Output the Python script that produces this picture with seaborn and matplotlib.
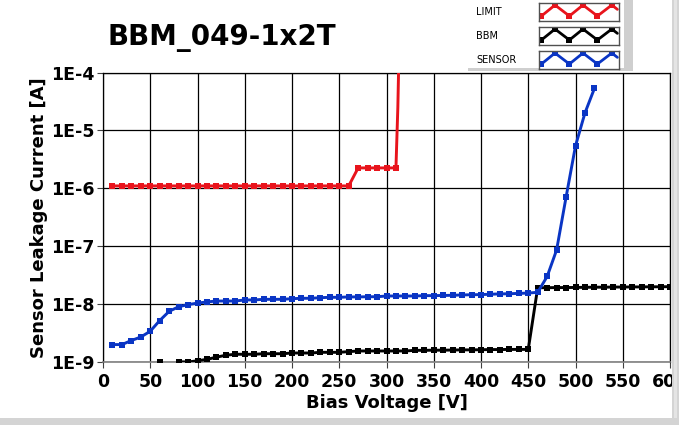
import numpy as np
import pandas as pd
import seaborn as sns
import matplotlib.pyplot as plt
from matplotlib.ticker import FixedLocator, FixedFormatter, NullLocator
from matplotlib.patches import Rectangle

# Bias voltage [V] and leakage current [A]
limit_v = [10, 20, 30, 40, 50, 60, 70, 80, 90, 100, 110, 120, 130, 140, 150,
           160, 170, 180, 190, 200, 210, 220, 230, 240, 250, 260,
           270, 280, 290, 300, 310, 312, 314]
limit_i = [1.1e-6] * 26 + [2.25e-6] * 5 + [2.5e-5, 1e-3]

bbm_v = [60, 70, 80, 90, 100, 110, 120, 130, 140, 150, 160, 170, 180, 190, 200,
         210, 220, 230, 240, 250, 260, 270, 280, 290, 300, 310, 320, 330, 340,
         350, 360, 370, 380, 390, 400, 410, 420, 430, 440, 450,
         460, 470, 480, 490, 500, 510, 520, 530, 540, 550, 560, 570, 580, 590, 600]
bbm_i = [1.0e-9, 6e-10, 1.01e-9, 1.0e-9, 1.05e-9, 1.11e-9, 1.21e-9, 1.31e-9, 1.36e-9,
         1.36e-9, 1.36e-9, 1.39e-9, 1.39e-9, 1.39e-9, 1.43e-9, 1.43e-9, 1.43e-9,
         1.47e-9, 1.47e-9, 1.47e-9, 1.51e-9, 1.55e-9, 1.55e-9, 1.55e-9, 1.55e-9,
         1.55e-9, 1.55e-9, 1.59e-9, 1.59e-9, 1.6e-9, 1.6e-9, 1.61e-9, 1.62e-9,
         1.62e-9, 1.63e-9, 1.64e-9, 1.64e-9, 1.65e-9, 1.65e-9, 1.65e-9,
         1.92e-8, 1.92e-8, 1.93e-8, 1.93e-8, 1.94e-8, 1.95e-8, 1.96e-8, 1.96e-8,
         1.97e-8, 1.97e-8, 1.98e-8, 1.98e-8, 1.99e-8, 1.99e-8, 2.0e-8]

sensor_v = [10, 20, 30, 40, 50, 60, 70, 80, 90, 100, 110, 120, 130, 140, 150,
            160, 170, 180, 190, 200, 210, 220, 230, 240, 250, 260, 270, 280, 290,
            300, 310, 320, 330, 340, 350, 360, 370, 380, 390, 400, 410, 420, 430,
            440, 450, 460, 470, 480, 490, 500, 510, 520]
sensor_i = [2.0e-9, 2.0e-9, 2.35e-9, 2.7e-9, 3.4e-9, 5.2e-9, 7.5e-9, 9.0e-9, 9.8e-9,
            1.04e-8, 1.09e-8, 1.13e-8, 1.13e-8, 1.13e-8, 1.18e-8, 1.18e-8, 1.21e-8,
            1.21e-8, 1.21e-8, 1.24e-8, 1.26e-8, 1.26e-8, 1.29e-8, 1.31e-8, 1.31e-8,
            1.33e-8, 1.33e-8, 1.34e-8, 1.34e-8, 1.38e-8, 1.38e-8, 1.38e-8, 1.38e-8,
            1.4e-8, 1.4e-8, 1.41e-8, 1.42e-8, 1.44e-8, 1.45e-8, 1.46e-8, 1.48e-8,
            1.5e-8, 1.51e-8, 1.53e-8, 1.55e-8, 1.6e-8, 3.0e-8, 8.6e-8, 7.0e-7,
            5.4e-6, 2.0e-5, 5.3e-5]

series_names = ["LIMIT", "BBM", "SENSOR"]
series_colors = ["#e8141c", "#000000", "#0a35c4"]

x_ticks = list(range(0, 601, 50))
y_ticks = [1e-9, 1e-8, 1e-7, 1e-6, 1e-5, 1e-4]
y_labels = ["1E-9", "1E-8", "1E-7", "1E-6", "1E-5", "1E-4"]

sns.set_theme(style="white")
plt.rcParams['font.family'] = ['DejaVu Sans']

W, H = 679, 425
fig = plt.figure(figsize=(W / 100, H / 100), dpi=100)
fig.patch.set_facecolor("white")


def fx(px):
    return px / W


def fy(py):
    return 1 - py / H


ax = fig.add_axes([fx(103), fy(362), fx(670) - fx(103), fy(72.5) - fy(362)])

data = [(limit_v, limit_i), (bbm_v, bbm_i), (sensor_v, sensor_i)]
for (v, i), name, col in zip(data, series_names, series_colors):
    # the LIMIT trace shoots out of range without drawing markers on the jump
    marks = list(range(len(v) - 2)) if name == "LIMIT" else None
    sns.lineplot(x=v, y=i, ax=ax, color=col, marker="s", markersize=4.6,
                 markeredgewidth=0, linewidth=2.1, sort=False, estimator=None,
                 legend=False, zorder=3, markevery=marks)

ax.set_yscale("log")
ax.set_xlim(0, 600)
ax.set_ylim(1e-9, 1e-4)
ax.xaxis.set_major_locator(FixedLocator(x_ticks))
ax.yaxis.set_major_locator(FixedLocator(y_ticks))
ax.yaxis.set_major_formatter(FixedFormatter(y_labels))
ax.yaxis.set_minor_locator(NullLocator())
ax.grid(True, color="black", linewidth=0.9)
ax.set_axisbelow(True)
for s in ["top", "left", "right"]:
    ax.spines[s].set_color("black")
    ax.spines[s].set_linewidth(0.9)
ax.spines["bottom"].set_color("#808080")
ax.spines["bottom"].set_linewidth(1.2)
ax.tick_params(axis="both", which="major", length=4.5, width=0.8, color="#404040",
               left=True, bottom=True, direction="out")
ax.tick_params(axis="y", pad=1.5, labelsize=12.5)
ax.tick_params(axis="x", pad=3.5, labelsize=12.5)
for lab in ax.get_xticklabels() + ax.get_yticklabels():
    lab.set_fontweight("bold")
    lab.set_color("black")

ax.set_xlabel("Bias Voltage [V]", fontsize=13, fontweight="bold", color="black",
              labelpad=2)
ax.set_ylabel("Sensor Leakage Current [A]", fontsize=13, fontweight="bold",
              color="black", labelpad=2)

fig.text(fx(108), fy(38), "BBM_049-1x2T", fontsize=20, fontweight="bold",
         ha="left", va="center", color="black")

# legend panel (LabVIEW style)
fig.patches.append(Rectangle((fx(468), fy(71)), fx(633) - fx(468), fy(0) - fy(71),
                             transform=fig.transFigure, facecolor="#cfcfcf",
                             edgecolor="none", zorder=2))
fig.patches.append(Rectangle((fx(466), fy(67.5)), fx(624) - fx(466), fy(0) - fy(67.5),
                             transform=fig.transFigure, facecolor="white",
                             edgecolor="none", zorder=2.1))
zig_x = [0.03, 0.2, 0.38, 0.55, 0.73, 0.91, 0.98]
zig_y = [0.26, 0.87, 0.26, 0.87, 0.26, 0.87, 0.63]
for k, (name, col) in enumerate(zip(series_names, series_colors)):
    top = 2.7 + 24 * k
    fig.text(fx(476), fy(top + 9), name, fontsize=7, ha="left", va="center",
             color="black", zorder=3)
    lax = fig.add_axes([fx(539), fy(top + 18), fx(619) - fx(539), fy(top) - fy(top + 18)])
    lax.set_zorder(3)
    lax.plot(zig_x, zig_y, color=col, linewidth=2.0, marker="s", markersize=3.8,
             markeredgewidth=0, markevery=[0, 1, 2, 3, 4, 5])
    lax.set_xlim(0, 1)
    lax.set_ylim(0, 1)
    lax.set_xticks([])
    lax.set_yticks([])
    lax.set_facecolor("white")
    for s in lax.spines.values():
        s.set_color("#505050")
        s.set_linewidth(1.0)

# window frame strips
fig.patches.append(Rectangle((fx(671.5), 0), 1 - fx(671.5), 1, transform=fig.transFigure,
                             facecolor="#d4d4d4", edgecolor="none", zorder=5))
fig.patches.append(Rectangle((fx(674), 0), fx(677) - fx(674), 1, transform=fig.transFigure,
                             facecolor="#e4e4e4", edgecolor="none", zorder=5))
fig.patches.append(Rectangle((0, 0), 1, fy(418), transform=fig.transFigure,
                             facecolor="#d4d4d4", edgecolor="none", zorder=5))

fig.savefig("out.png", dpi=100, facecolor="white")
